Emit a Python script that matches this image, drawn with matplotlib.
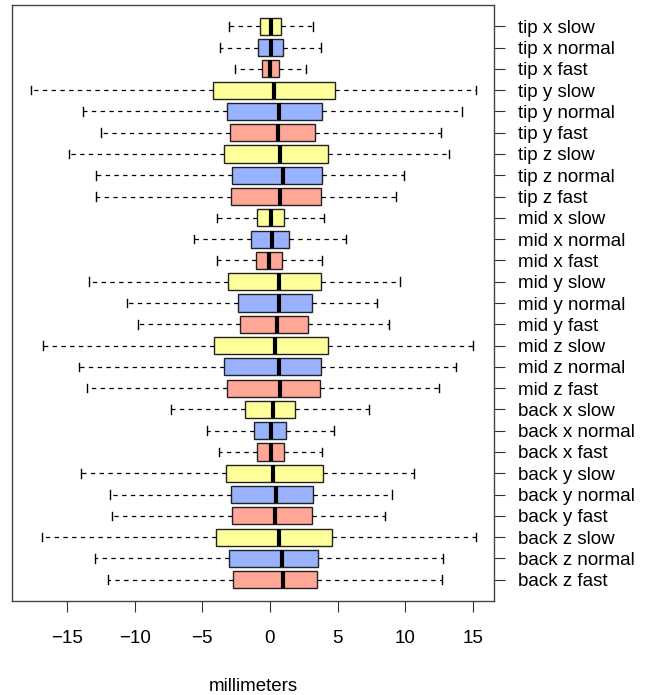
import matplotlib.pyplot as plt

plt.rcParams['font.family'] = ['Liberation Sans', 'DejaVu Sans']

# rows from top to bottom
labels = ['tip x slow', 'tip x normal', 'tip x fast',
          'tip y slow', 'tip y normal', 'tip y fast',
          'tip z slow', 'tip z normal', 'tip z fast',
          'mid x slow', 'mid x normal', 'mid x fast',
          'mid y slow', 'mid y normal', 'mid y fast',
          'mid z slow', 'mid z normal', 'mid z fast',
          'back x slow', 'back x normal', 'back x fast',
          'back y slow', 'back y normal', 'back y fast',
          'back z slow', 'back z normal', 'back z fast']

whislo = [-3.05, -3.67, -2.59, -17.69, -13.8, -12.49, -14.83, -12.88, -12.88,
          -3.94, -5.59, -3.94, -13.35, -10.59, -9.78, -16.8, -14.12, -13.55,
          -7.32, -4.68, -3.77, -13.99, -11.85, -11.68, -16.87, -12.93, -12.0]
q1 = [-0.71, -0.89, -0.62, -4.19, -3.2, -2.98, -3.37, -2.83, -2.91,
      -0.94, -1.38, -1.01, -3.08, -2.39, -2.22, -4.14, -3.4, -3.2,
      -1.82, -1.18, -0.94, -3.28, -2.86, -2.78, -4.02, -3.05, -2.73]
med = [0.1, 0.1, 0.03, 0.3, 0.69, 0.57, 0.74, 0.94, 0.71,
       0.1, 0.17, -0.05, 0.64, 0.67, 0.49, 0.37, 0.69, 0.74,
       0.22, 0.07, 0.07, 0.22, 0.42, 0.37, 0.69, 0.91, 0.99]
q3 = [0.84, 0.99, 0.69, 4.8, 3.84, 3.35, 4.26, 3.82, 3.74,
      1.03, 1.43, 0.91, 3.77, 3.08, 2.81, 4.31, 3.74, 3.67,
      1.85, 1.18, 1.01, 3.89, 3.2, 3.13, 4.56, 3.55, 3.45]
whishi = [3.18, 3.77, 2.64, 15.23, 14.19, 12.66, 13.25, 9.88, 9.31,
          3.99, 5.62, 3.82, 9.58, 7.91, 8.82, 15.03, 13.75, 12.51,
          7.34, 4.7, 3.84, 10.64, 9.02, 8.53, 15.23, 12.81, 12.71]

speed_colors = {'slow': '#FFFF99', 'normal': '#99B2FF', 'fast': '#FFA696'}

stats = []
for i in range(len(labels)):
    stats.append({'label': labels[i], 'whislo': whislo[i], 'q1': q1[i],
                  'med': med[i], 'q3': q3[i], 'whishi': whishi[i], 'fliers': []})

fig = plt.figure(figsize=(6.49, 6.95), dpi=100)
ax = fig.add_axes([12 / 649, 1 - 601 / 695, (494 - 12) / 649, (601 - 5) / 695])

positions = list(range(1, len(labels) + 1))
bp = ax.bxp(stats, positions=positions, orientation='horizontal', widths=0.8,
            capwidths=0.4, patch_artist=True, showfliers=False,
            boxprops=dict(edgecolor='#222222', linewidth=1.0),
            medianprops=dict(color='black', linewidth=3, solid_capstyle='butt'),
            whiskerprops=dict(color='black', linewidth=0.9, linestyle=(0, (3.5, 3.5))),
            capprops=dict(color='black', linewidth=1.0))
for box, lab in zip(bp['boxes'], labels):
    box.set_facecolor(speed_colors[lab.split()[-1]])

ax.set_ylim(28, 0)
ax.set_xlim(-19.07, 16.56)
ax.set_xticks([-15, -10, -5, 0, 5, 10, 15])
ax.set_xticklabels(['\u221215', '\u221210', '\u22125', '0', '5', '10', '15'])
ax.yaxis.tick_right()
ax.set_yticks(positions)
ax.set_yticklabels(labels)
ax.tick_params(axis='both', labelsize=13.5, length=8, width=0.8, color='#333333', pad=9)
ax.tick_params(axis='x', pad=13)
for s in ax.spines.values():
    s.set_color('#444444')
    s.set_linewidth(1.0)
ax.set_xlabel('millimeters', fontsize=13.5, labelpad=22)

fig.savefig('out.png', dpi=100)
